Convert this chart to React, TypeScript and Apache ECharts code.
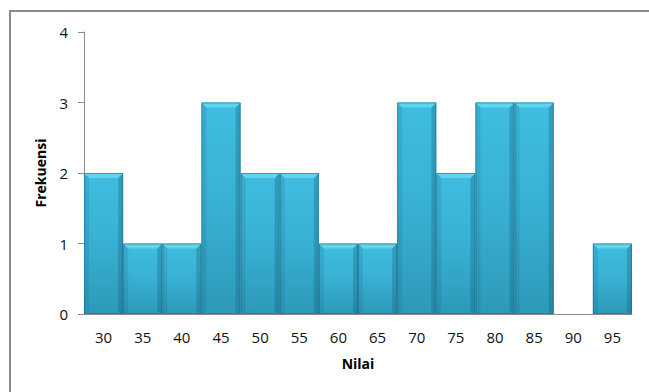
import React, { useEffect, useRef } from "react";
import * as echarts from "echarts";

// Frequency of scores (Nilai) per class
const nilai = ["30", "35", "40", "45", "50", "55", "60", "65", "70", "75", "80", "85", "90", "95"];
const frekuensi = [2, 1, 1, 3, 2, 2, 1, 1, 3, 2, 3, 3, 0, 1];
const yTicks = [0, 1, 2, 3, 4];

const FONT = "'Open Sans', 'Noto Sans', sans-serif";

// Bevelled column: gradient body, shaded side edges, light top chamfer
function renderBar(params: any, api: any) {
  const idx = api.value(0);
  const val = api.value(1);
  if (!val) return { type: "group", children: [] };
  const top = api.coord([idx, val]);
  const base = api.coord([idx, 0]);
  const w = api.size([1, 0])[0];
  const x0 = top[0] - w / 2;
  const x1 = top[0] + w / 2;
  const y0 = top[1];
  const y1 = base[1];
  const h = y1 - y0;
  const bev = 5;
  return {
    type: "group",
    children: [
      {
        type: "rect",
        shape: { x: x0, y: y0, width: w, height: h },
        style: {
          fill: new echarts.graphic.LinearGradient(0, 0, 0, 1, [
            { offset: 0, color: "#3fbde0" },
            { offset: 0.5, color: "#38b0d3" },
            { offset: 1, color: "#2d99b9" },
          ]),
        },
      },
      {
        type: "polygon",
        shape: { points: [[x0, y0], [x0 + bev, y0 + bev], [x0 + bev, y1 - 2], [x0, y1]] },
        style: { fill: "rgba(20,90,115,0.15)" },
      },
      {
        type: "polygon",
        shape: { points: [[x1, y0], [x1 - bev, y0 + bev], [x1 - bev, y1 - 2], [x1, y1]] },
        style: { fill: "rgba(20,90,115,0.3)" },
      },
      {
        type: "polygon",
        shape: { points: [[x0, y0], [x1, y0], [x1 - bev, y0 + bev], [x0 + bev, y0 + bev]] },
        style: { fill: "#62d3ef" },
      },
      {
        type: "rect",
        shape: { x: x0 + 0.5, y: y0 + 0.5, width: w - 1, height: h - 1 },
        style: { fill: "none", stroke: "rgba(25,105,130,0.55)", lineWidth: 1 },
      },
    ],
  };
}

export default function App() {
  const ref = useRef<HTMLDivElement>(null);

  useEffect(() => {
    const chart = echarts.init(ref.current!, null, { renderer: "svg" });
    chart.setOption({
      animation: false,
      backgroundColor: "#ffffff",
      grid: { left: 84, right: 17, top: 32, bottom: 78 },
      graphic: [
        {
          type: "rect",
          shape: { x: 10, y: 11, width: 700, height: 500 },
          style: { fill: "none", stroke: "#8a8a8a", lineWidth: 2 },
          silent: true,
        },
      ],
      xAxis: {
        type: "category",
        data: nilai,
        name: "Nilai",
        nameLocation: "middle",
        nameGap: 42,
        nameTextStyle: { fontFamily: FONT, fontWeight: "bold", fontSize: 14, color: "#000" },
        axisLine: { lineStyle: { color: "#8c8c8c", width: 1 } },
        axisTick: { show: false },
        axisLabel: { margin: 15, fontFamily: FONT, fontSize: 15, color: "#111" },
      },
      yAxis: {
        type: "value",
        min: yTicks[0],
        max: yTicks[yTicks.length - 1],
        interval: 1,
        name: "Frekuensi",
        nameLocation: "middle",
        nameGap: 37,
        nameRotate: 90,
        nameTextStyle: { fontFamily: FONT, fontWeight: "bold", fontSize: 14, color: "#000" },
        axisLine: { show: true, lineStyle: { color: "#8c8c8c", width: 1 } },
        axisTick: { show: true, length: 6, lineStyle: { color: "#8c8c8c" } },
        splitLine: { show: false },
        axisLabel: { margin: 16, fontFamily: FONT, fontSize: 15, color: "#111" },
      },
      series: [
        {
          type: "custom",
          renderItem: renderBar,
          data: frekuensi.map((v, i) => [i, v]),
          encode: { x: 0, y: 1 },
          z: 3,
        },
      ],
    });
    return () => chart.dispose();
  }, []);

  return (
    <div
      ref={ref}
      style={{ position: "absolute", left: 0, top: 0, width: 649, height: 392 }}
    />
  );
}
